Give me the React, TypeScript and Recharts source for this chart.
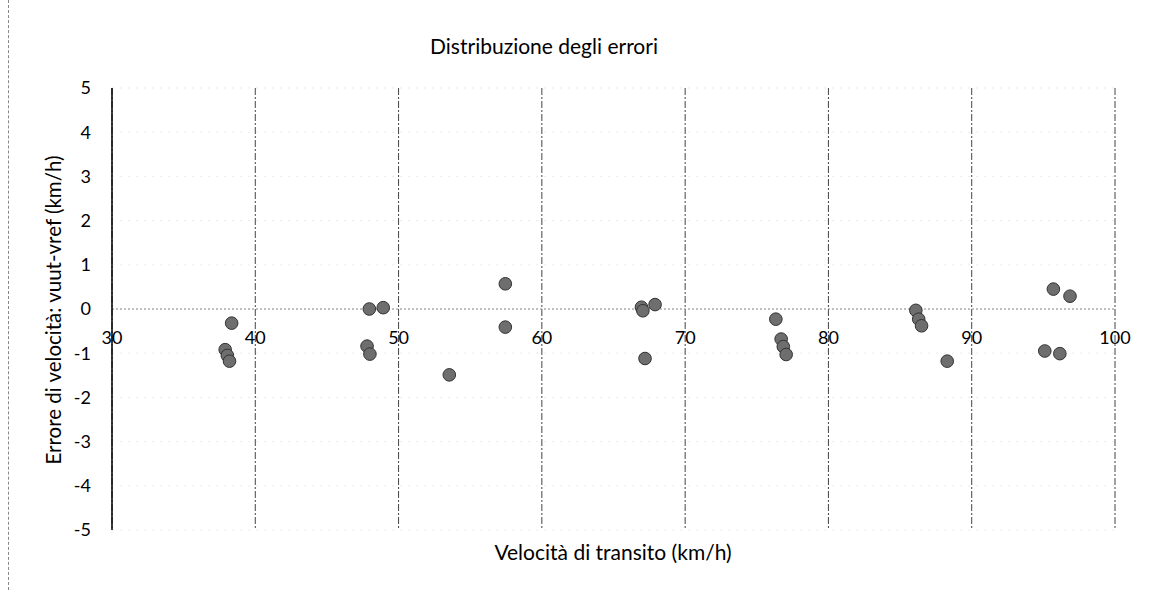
import React from "react";
import {
  ScatterChart,
  Scatter,
  XAxis,
  YAxis,
  CartesianGrid,
  ReferenceLine,
  Label,
} from "recharts";

// velocità di transito (km/h) e relativo errore vuut-vref (km/h)
const velocita = [
  38.35, 37.9, 38.05, 38.2, 47.96, 48.93, 47.8, 48.0, 57.45, 57.45, 53.54,
  66.95, 67.05, 67.9, 67.2, 76.33, 76.7, 76.85, 77.05, 86.1, 86.3, 86.5, 88.29,
  95.7, 96.86, 95.1, 96.15,
];
const errori = [
  -0.32, -0.92, -1.05, -1.18, 0.0, 0.03, -0.84, -1.02, 0.57, -0.41, -1.49,
  0.04, -0.04, 0.1, -1.12, -0.23, -0.68, -0.85, -1.03, -0.03, -0.23, -0.38,
  -1.18, 0.45, 0.29, -0.95, -1.01,
];
const xTicks = [30, 40, 50, 60, 70, 80, 90, 100];
const yTicks = [-5, -4, -3, -2, -1, 0, 1, 2, 3, 4, 5];

const data = velocita.map((v, i) => ({ v, e: errori[i] }));

const W = 1149;
const H = 590;
const PLOT_TOP = 88;
const PLOT_BOTTOM = 530;
const ZERO_Y = (PLOT_TOP + PLOT_BOTTOM) / 2;
const FONT = "Lato, Carlito, Calibri, sans-serif";

// etichette asse x disegnate accanto alla linea dello zero, come in Excel
const XTick = ({ x, payload }: any) => (
  <text
    x={x}
    y={ZERO_Y + 35}
    textAnchor="middle"
    fontSize={18}
    fontFamily={FONT}
    fill="#000"
  >
    {payload.value}
  </text>
);

const Dot = ({ cx, cy }: any) => (
  <circle cx={cx} cy={cy} r={6.3} fill="#6e6e6e" stroke="#333" strokeWidth={1} />
);

export default function App() {
  return (
    <div
      style={{
        position: "absolute",
        top: 0,
        left: 0,
        width: W,
        height: H,
        background: "#fff",
        fontFamily: FONT,
      }}
    >
      <div
        style={{
          position: "absolute",
          left: 8,
          top: 0,
          height: H,
          borderLeft: "1px dashed #888",
        }}
      />
      <div
        style={{
          position: "absolute",
          left: 344,
          width: 400,
          top: 33,
          textAlign: "center",
          fontSize: 21,
          lineHeight: "26px",
          color: "#000",
        }}
      >
        Distribuzione degli errori
      </div>
      <ScatterChart
        width={W}
        height={H}
        margin={{ top: PLOT_TOP, right: 34, bottom: 0, left: 0 }}
      >
        <CartesianGrid
          horizontal={false}
          stroke="#444"
          strokeDasharray="7 2 2 2"
        />
        <CartesianGrid
          vertical={false}
          stroke="#ebebeb"
          strokeDasharray="2 6"
        />
        <XAxis
          type="number"
          dataKey="v"
          domain={[30, 100]}
          ticks={xTicks}
          axisLine={false}
          tickLine={false}
          tick={<XTick />}
          height={H - PLOT_BOTTOM}
        >
          <Label
            content={() => (
              <text
                x={613}
                y={560}
                textAnchor="middle"
                fontSize={21}
                fontFamily={FONT}
                fill="#000"
              >
                Velocità di transito (km/h)
              </text>
            )}
          />
        </XAxis>
        <YAxis
          type="number"
          dataKey="e"
          domain={[-5, 5]}
          ticks={yTicks}
          axisLine={{ stroke: "#000", strokeWidth: 1.5 }}
          tickLine={false}
          tickSize={0}
          tickMargin={21}
          tick={{ fontSize: 18, fill: "#000", fontFamily: FONT }}
          width={112}
        >
          <Label
            content={() => (
              <text
                x={61}
                y={310}
                textAnchor="middle"
                fontSize={20.5}
                fontFamily={FONT}
                fill="#000"
                transform="rotate(-90 61 310)"
              >
                Errore di velocità: vuut-vref  (km/h)
              </text>
            )}
          />
        </YAxis>
        <ReferenceLine y={0} stroke="#888" strokeDasharray="2 2" />
        <Scatter data={data} shape={<Dot />} isAnimationActive={false} />
      </ScatterChart>
    </div>
  );
}
